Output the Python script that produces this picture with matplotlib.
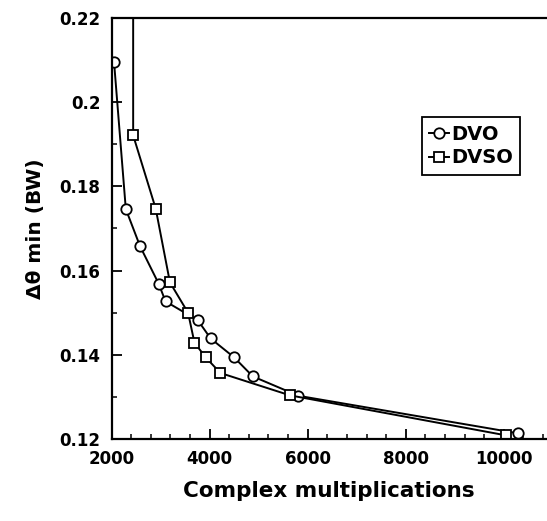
import matplotlib
matplotlib.use("Agg")
import matplotlib.pyplot as plt
from matplotlib.ticker import MultipleLocator

# values
dvo_x = [2050, 2290, 2580, 2960, 3100, 3760, 4020, 4500, 4880, 5810, 10290]
dvo_y = [0.2095, 0.1746, 0.1658, 0.1569, 0.1527, 0.1482, 0.1439, 0.1394, 0.1349, 0.1303, 0.1214]

dvso_x = [2440, 2440, 2900, 3190, 3560, 3690, 3920, 4220, 5640, 10050]
dvso_y = [0.235, 0.1921, 0.1747, 0.1572, 0.1500, 0.1429, 0.1394, 0.1357, 0.1304, 0.1209]

x_ticks = [2000, 4000, 6000, 8000, 10000]
y_ticks = [0.12, 0.14, 0.16, 0.18, 0.2, 0.22]
y_tick_labels = ["0.12", "0.14", "0.16", "0.18", "0.2", "0.22"]

plt.rcParams['font.family'] = ['DejaVu Sans']
plt.rcParams['font.weight'] = 'bold'

fig = plt.figure(figsize=(5.47, 5.21), dpi=100)
ax = fig.add_axes([0.204, 0.157, 0.796, 0.809])

ax.plot(dvo_x, dvo_y, color='black', lw=1.4, marker='o', ms=7.5,
        mfc='white', mec='black', mew=1.3, label='DVO')
ax.plot(dvso_x, dvso_y, color='black', lw=1.4, marker='s', ms=6.5,
        mfc='white', mec='black', mew=1.3, label='DVSO')

ax.set_xlim(2000, 10880)
ax.set_ylim(0.12, 0.22)
ax.set_xticks(x_ticks)
ax.set_xticklabels([str(v) for v in x_ticks])
ax.set_yticks(y_ticks)
ax.set_yticklabels(y_tick_labels)
ax.xaxis.set_minor_locator(MultipleLocator(400))
ax.yaxis.set_minor_locator(MultipleLocator(0.01))

ax.tick_params(which='major', direction='in', length=7, width=1.3, labelsize=12)
ax.tick_params(axis='x', which='major', pad=8)
ax.tick_params(axis='y', which='major', pad=8)
ax.tick_params(which='minor', direction='in', length=3.5, width=1.1)
ax.tick_params(top=False, right=False, which='both')

for s in ['left', 'bottom', 'top']:
    ax.spines[s].set_linewidth(1.6)
ax.spines['right'].set_visible(False)

ax.set_xlabel('Complex multiplications', fontsize=15.5, fontweight='bold', labelpad=9)
ax.set_ylabel('Δθ min (BW)', fontsize=14.5, fontweight='bold', labelpad=10)

leg = ax.legend(loc='upper left', bbox_to_anchor=(0.712, 0.765), fontsize=14,
                handlelength=1.0, handletextpad=0.1, borderpad=0.4,
                labelspacing=0.25, fancybox=False, framealpha=1,
                edgecolor='black', borderaxespad=0)
leg.get_frame().set_linewidth(1.3)

fig.savefig('out.png', dpi=100)
